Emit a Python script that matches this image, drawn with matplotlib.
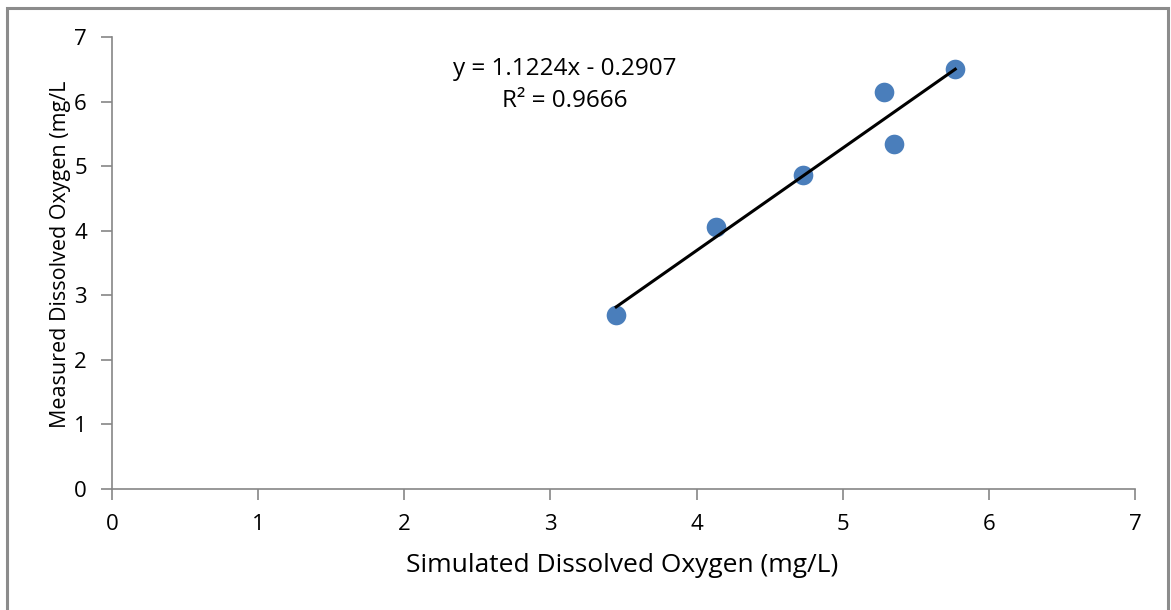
#!/usr/bin/env python3
import numpy as np
import matplotlib
matplotlib.use("Agg")
import matplotlib.pyplot as plt
from matplotlib.patches import Rectangle

# simulated vs measured dissolved oxygen (mg/L)
simulated = [3.45, 4.13, 4.73, 5.28, 5.35, 5.77]
measured = [2.70, 4.06, 4.86, 6.15, 5.35, 6.51]
ticks = [0, 1, 2, 3, 4, 5, 6, 7]
eq_text = "y = 1.1224x - 0.2907\nR² = 0.9666"

BLUE = "#4A7EBB"
AXIS_GREY = "#868686"

plt.rcParams["font.family"] = ["Open Sans", "DejaVu Sans"]


def main():
    fig = plt.figure(figsize=(11.71, 6.10), dpi=100)
    ax = fig.add_axes([112 / 1171, 1 - 489 / 610, 1023 / 1171, 452 / 610])

    ax.scatter(simulated, measured, s=200, color=BLUE, zorder=3, linewidths=0)

    # linear trendline through the points
    k, b = np.polyfit(simulated, measured, 1)
    xs = np.array([min(simulated), max(simulated)])
    ax.plot(xs, k * xs + b, color="black", linewidth=2.2, zorder=4)

    ax.text(3.10, 6.26, eq_text, ha="center", va="center", fontsize=17.5,
            linespacing=1.42)

    ax.set_xlim(0, 7)
    ax.set_ylim(0, 7)
    ax.set_xticks(ticks)
    ax.set_yticks(ticks)
    for side in ["top", "right"]:
        ax.spines[side].set_visible(False)
    for side in ["left", "bottom"]:
        ax.spines[side].set_color(AXIS_GREY)
        ax.spines[side].set_linewidth(1.2)
    ax.tick_params(colors=AXIS_GREY, labelcolor="black", labelsize=16,
                   length=8, width=1.2, direction="out")
    ax.tick_params(axis="x", pad=10)
    ax.tick_params(axis="y", pad=10)

    ax.set_xlabel("Simulated Dissolved Oxygen (mg/L)", fontsize=19)
    ax.xaxis.set_label_coords(0.499, -0.142)
    ax.set_ylabel("Measured Dissolved Oxygen (mg/L", fontsize=15.5)
    ax.yaxis.set_label_coords(-0.040, 0.52)

    # grey chart-area border, open at the bottom
    fig.patches.append(Rectangle((7 / 1171, -0.1), 1161 / 1171, 1 - 8 / 610 + 0.1,
                                 transform=fig.transFigure, fill=False,
                                 edgecolor="#8c8c8c", linewidth=2.2))

    fig.savefig("out.png", dpi=100)


if __name__ == "__main__":
    main()
